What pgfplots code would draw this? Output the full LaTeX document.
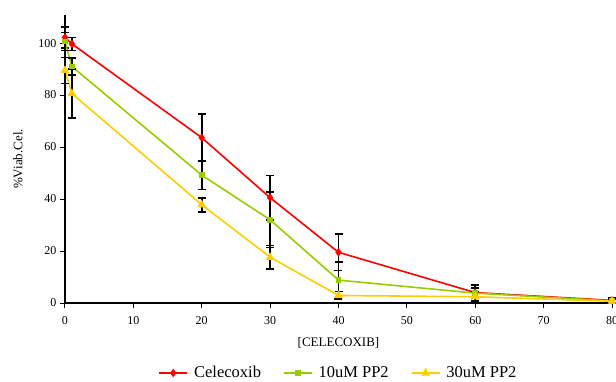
\documentclass[border=0pt]{standalone}
\usepackage{pgfplots}
\pgfplotsset{compat=1.18}
\usepackage{fontspec}
\setmainfont{Liberation Serif}
\definecolor{cred}{RGB}{255,0,0}
\definecolor{cgreen}{RGB}{153,204,0}
\definecolor{cyellow}{RGB}{255,204,0}
\begin{document}
\begin{tikzpicture}
\path[use as bounding box] (-65pt,-78pt) rectangle (551pt,303pt);
\begin{axis}[
  at={(0,0)}, anchor=south west,
  scale only axis, width=547pt, height=288pt,
  xmin=0, xmax=80, ymin=0, ymax=110.8,
  axis x line*=bottom, axis y line*=left,
  axis line style={black, line width=1.4pt},
  xtick={0,10,...,80}, ytick={0,20,...,100},
  tick style={black, line width=1pt},
  tick align=outside, major tick length=5pt,
  /pgf/number format/assume math mode=true,
  tick label style={font=\fontsize{12}{13}\selectfont},
  xticklabel style={yshift=-5pt},
  xlabel={[CELECOXIB]}, ylabel={\%Viab.Cel.},
  label style={font=\fontsize{13}{14}\selectfont},
  xlabel style={at={(axis description cs:0.5,-0.139)}, anchor=center},
  ylabel style={at={(axis description cs:-0.086,0.5)}, anchor=center},
  clip=false,
  legend columns=3,
  legend style={draw=none, fill=none, at={(axis description cs:0.5,-0.243)}, anchor=center,
    font=\fontsize{16.5}{18}\selectfont,
    /tikz/every odd column/.append style={column sep=4pt},
    /tikz/every even column/.append style={column sep=20pt}},
  legend image code/.code={\draw[mark repeat=2,mark phase=2,#1] plot coordinates {(0pt,0pt)(14pt,0pt)(28pt,0pt)};},
  every axis plot/.append style={line width=1.6pt},
  error bars/y dir=both, error bars/y explicit,
  error bars/error bar style={black, line width=1.6pt, solid},
  error bars/error mark options={rotate=90, black, mark size=4pt, line width=1.6pt},
]
\addplot[cred, mark=diamond*, mark size=3pt, mark options={solid, fill=cred}] coordinates {
 (0,102.2) +- (0,4)
 (1,99.7) +- (0,2.5)
 (20,63.6) +- (0,9.2)
 (30,40.5) +- (0,8.5)
 (40,19.5) +- (0,7)
 (60,4) +- (0,3)
 (80,1) +- (0,1)
};
\addlegendentry{Celecoxib}
\addplot[cgreen, mark=square*, mark size=2pt, mark options={solid, fill=cgreen}] coordinates {
 (0,100.6) +- (0,3.5)
 (1,91) +- (0,3.3)
 (20,49.2) +- (0,5.5)
 (30,32) +- (0,10.6)
 (40,8.8) +- (0,7)
 (60,3.8) +- (0,2)
 (80,0.8) +- (0,0.8)
};
\addlegendentry{10uM PP2}
\addplot[cyellow, mark=triangle*, mark size=3.5pt, mark options={solid, fill=cyellow}] coordinates {
 (0,89.5) +- (0,5)
 (1,80.6) +- (0,9.4)
 (20,37.8) +- (0,2.7)
 (30,17.6) +- (0,4.5)
 (40,2.9) +- (0,1.5)
 (60,2.4) +- (0,2)
 (80,0.7) +- (0,0.7)
};
\addlegendentry{30uM PP2}
\end{axis}
\end{tikzpicture}
\end{document}
